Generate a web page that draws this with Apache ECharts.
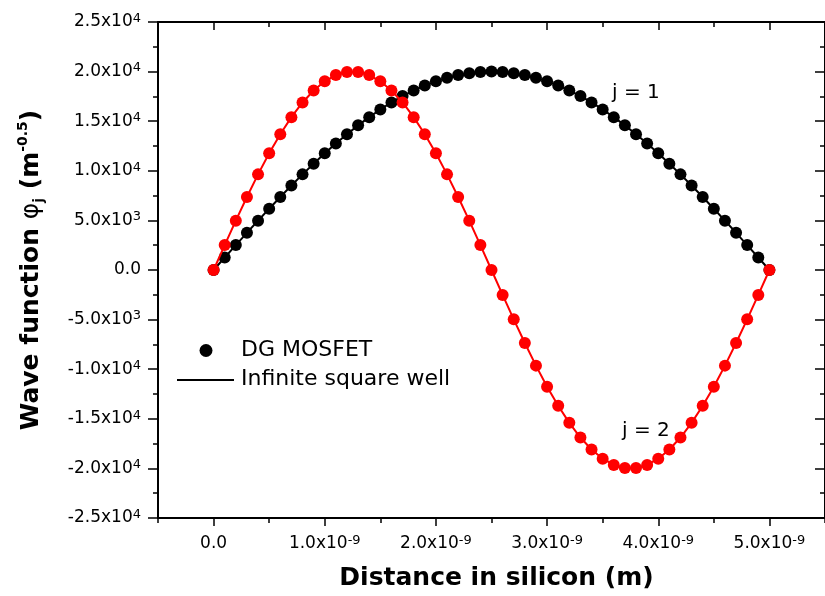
<!DOCTYPE html>
<html>
<head>
<meta charset="utf-8">
<script src="https://cdn.jsdelivr.net/npm/echarts@6/dist/echarts.min.js"></script>
<style>html,body{margin:0;padding:0;background:#fff;}#chart{width:825px;height:596px;}</style>
</head>
<body>
<div id="chart"></div>
<script>
// Distance in silicon, in units of 1e-9 m
const distanceNm = [0.0,0.1,0.2,0.3,0.4,0.5,0.6,0.7,0.8,0.9,1.0,1.1,1.2,1.3,1.4,1.5,1.6,1.7,1.8,1.9,2.0,2.1,2.2,2.3,2.4,2.5,2.6,2.7,2.8,2.9,3.0,3.1,3.2,3.3,3.4,3.5,3.6,3.7,3.8,3.9,4.0,4.1,4.2,4.3,4.4,4.5,4.6,4.7,4.8,4.9,5.0];
// j = 1 wave function (m^-0.5)
const psi1 = [0,1260,2510,3750,4970,6180,7360,8520,9640,10720,11760,12750,13690,14580,15410,16180,16890,17530,18100,18600,19020,19370,19650,19840,19960,20000,19960,19840,19650,19370,19020,18600,18100,17530,16890,16180,15410,14580,13690,12750,11760,10720,9640,8520,7360,6180,4970,3750,2510,1260,0];
// j = 2 wave function (m^-0.5)
const psi2 = [0,2510,4970,7360,9640,11760,13690,15410,16890,18100,19020,19650,19960,19960,19650,19020,18100,16890,15410,13690,11760,9640,7360,4970,2510,0,-2510,-4970,-7360,-9640,-11760,-13690,-15410,-16890,-18100,-19020,-19650,-19960,-19960,-19650,-19020,-18100,-16890,-15410,-13690,-11760,-9640,-7360,-4970,-2510,0];

const xTickValues = [0,1,2,3,4,5];
const xTickLabels = [['0.0',''],['1.0','-9'],['2.0','-9'],['3.0','-9'],['4.0','-9'],['5.0','-9']];
const yTickValues = [-25000,-20000,-15000,-10000,-5000,0,5000,10000,15000,20000,25000];
const yTickLabels = [['-2.5','4'],['-2.0','4'],['-1.5','4'],['-1.0','4'],['-5.0','3'],['0.0',''],['5.0','3'],['1.0','4'],['1.5','4'],['2.0','4'],['2.5','4']];

const FONT = 'DejaVu Sans';
const tickRich = {
  b: {fontFamily: FONT, fontSize: 17, lineHeight: 20, color: '#000'},
  s: {fontFamily: FONT, fontSize: 13, lineHeight: 13, verticalAlign: 'top', color: '#000'}
};
function fmt(values, labels) {
  return function (v) {
    const i = values.findIndex(t => Math.abs(t - v) < 1e-6 * Math.max(1, Math.abs(t)));
    if (i < 0) return '';
    const m = labels[i][0], e = labels[i][1];
    return e ? '{b|' + m + 'x10}{s|' + e + '}' : '{b|' + m + '}';
  };
}
const axisLineStyle = {color: '#000', width: 2};
const tickLine = {color: '#000', width: 1.5};

const chart = echarts.init(document.getElementById('chart'), null, {renderer: 'canvas'});
chart.setOption({
  animation: false,
  backgroundColor: '#fff',
  grid: {left: 158, top: 22, width: 677, height: 497, containLabel: false},
  xAxis: [
    {
      type: 'value', position: 'bottom', min: -0.5, max: 5.5,
      axisLine: {show: true, onZero: false, lineStyle: axisLineStyle},
      axisTick: {show: true, customValues: xTickValues, length: 8, inside: false, lineStyle: tickLine},
      axisLabel: {show: true, customValues: xTickValues, formatter: fmt(xTickValues, xTickLabels), rich: tickRich, margin: 16},
      splitLine: {show: false},
      name: 'Distance in silicon (m)', nameLocation: 'middle', nameGap: 48,
      nameTextStyle: {fontFamily: FONT, fontWeight: 'bold', fontSize: 25, color: '#000', padding: [0, 0, 0, 10]}
    },
    {
      type: 'value', position: 'bottom', min: -0.5, max: 5.5, interval: 0.5,
      axisLine: {show: false, onZero: false},
      axisTick: {show: true, length: 5, inside: false, lineStyle: tickLine},
      axisLabel: {show: false}, splitLine: {show: false}
    },
    {
      type: 'value', position: 'top', min: -0.5, max: 5.5,
      axisLine: {show: true, onZero: false, lineStyle: axisLineStyle},
      axisTick: {show: true, customValues: xTickValues, length: 8, inside: true, lineStyle: tickLine},
      axisLabel: {show: false}, splitLine: {show: false}
    },
    {
      type: 'value', position: 'top', min: -0.5, max: 5.5, interval: 0.5,
      axisLine: {show: false, onZero: false},
      axisTick: {show: true, length: 5, inside: true, lineStyle: tickLine},
      axisLabel: {show: false}, splitLine: {show: false}
    }
  ],
  yAxis: [
    {
      type: 'value', position: 'left', min: -25000, max: 25000, interval: 5000,
      axisLine: {show: true, onZero: false, lineStyle: axisLineStyle},
      axisTick: {show: true, length: 10, inside: false, lineStyle: tickLine},
      minorTick: {show: true, splitNumber: 2, length: 5, lineStyle: tickLine},
      axisLabel: {show: true, formatter: fmt(yTickValues, yTickLabels), rich: tickRich, margin: 17},
      splitLine: {show: false}, minorSplitLine: {show: false},
      name: '{b|Wave function }{p|φ}{sub|j}{b| (m}{sup|-0.5}{b|)}',
      nameLocation: 'middle', nameGap: 112,
      nameTextStyle: {
        rich: {
          b: {fontFamily: FONT, fontWeight: 'bold', fontSize: 25, lineHeight: 30, color: '#000'},
          p: {fontFamily: FONT, fontSize: 25, lineHeight: 30, color: '#000'},
          sub: {fontFamily: FONT, fontWeight: 'bold', fontSize: 14, lineHeight: 14, verticalAlign: 'bottom', color: '#000'},
          sup: {fontFamily: FONT, fontWeight: 'bold', fontSize: 14, lineHeight: 14, verticalAlign: 'top', color: '#000'}
        }
      }
    },
    {
      type: 'value', position: 'right', min: -25000, max: 25000, interval: 5000,
      axisLine: {show: true, onZero: false, lineStyle: axisLineStyle},
      axisTick: {show: true, length: 10, inside: true, lineStyle: tickLine},
      minorTick: {show: true, splitNumber: 2, length: 5, lineStyle: tickLine},
      axisLabel: {show: false}, splitLine: {show: false}
    }
  ],
  series: [
    {
      type: 'line', name: 'j = 1', xAxisIndex: 0, yAxisIndex: 0,
      data: distanceNm.map((x, i) => [x, psi1[i]]),
      symbol: 'circle', symbolSize: 12, showAllSymbol: true,
      lineStyle: {color: '#000', width: 2}, itemStyle: {color: '#000'}, z: 2
    },
    {
      type: 'line', name: 'j = 2', xAxisIndex: 0, yAxisIndex: 0,
      data: distanceNm.map((x, i) => [x, psi2[i]]),
      symbol: 'circle', symbolSize: 12, showAllSymbol: true,
      lineStyle: {color: '#ff0000', width: 2}, itemStyle: {color: '#ff0000'}, z: 3
    }
  ],
  graphic: [
    {type: 'circle', shape: {cx: 206, cy: 350.5, r: 6.5}, style: {fill: '#000'}},
    {type: 'text', x: 241, y: 350.5, style: {text: 'DG MOSFET', fontFamily: FONT, fontSize: 22, fill: '#000', verticalAlign: 'middle', align: 'left'}},
    {type: 'line', shape: {x1: 177, y1: 380, x2: 234, y2: 380}, style: {stroke: '#000', lineWidth: 2}},
    {type: 'text', x: 241, y: 379, style: {text: 'Infinite square well', fontFamily: FONT, fontSize: 22, fill: '#000', verticalAlign: 'middle', align: 'left'}},
    {type: 'text', x: 612, y: 93, style: {text: 'j = 1', fontFamily: FONT, fontSize: 20, fill: '#000', verticalAlign: 'middle', align: 'left'}},
    {type: 'text', x: 622, y: 431, style: {text: 'j = 2', fontFamily: FONT, fontSize: 20, fill: '#000', verticalAlign: 'middle', align: 'left'}}
  ]
});
</script>
</body>
</html>
